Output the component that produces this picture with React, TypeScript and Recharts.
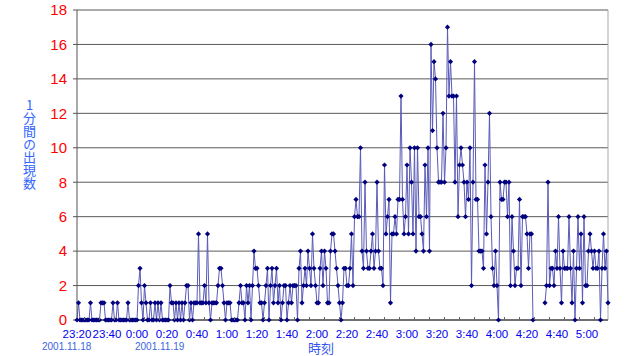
import React from "react";
import { LineChart, Line, XAxis, YAxis, CartesianGrid, ReferenceLine } from "recharts";

// Per-minute counts starting at 23:20 (2001.11.18)
const counts2320 = [
  0, 1, 0, 0, 0, 0, 0, 0, 0, 1, 0, 0, 0, 0, 0, 0, 1, 1, 1, 0,
  0, 0, 0, 0, 1, 0, 0, 1, 0, 0, 0, 0, 0, 0, 1, 0, 0, 0, 0, 0,
];
const counts0000 = [
  0, 2, 3, 1, 0, 2, 1, 0, 0, 1, 0, 0, 1, 0, 1, 0, 1, 0, 0, 0,
  0, 0, 2, 1, 1, 0, 1, 0, 1, 0, 1, 0, 1, 2, 2, 0, 1, 0, 1, 1,
  1, 5, 1, 1, 1, 2, 1, 5, 1, 0, 1, 1, 1, 1, 2, 3, 3, 2, 1, 0,
];
const counts0100 = [
  1, 1, 1, 0, 0, 0, 0, 0, 1, 2, 1, 1, 0, 2, 1, 2, 0, 2, 4, 3,
  3, 2, 1, 1, 0, 1, 2, 3, 0, 2, 3, 1, 2, 3, 1, 2, 0, 1, 2, 2,
  0, 1, 2, 1, 2, 2, 2, 0, 3, 4, 1, 2, 3, 2, 4, 3, 2, 5, 3, 2,
];
const counts0200 = [
  1, 1, 3, 4, 2, 4, 3, 1, 1, 4, 5, 5, 4, 3, 2, 1, 0, 1, 3, 3,
  2, 2, 3, 5, 2, 6, 7, 6, 6, 10, 4, 3, 8, 4, 3, 3, 4, 5, 3, 4,
  8, 4, 3, 3, 2, 9, 5, 6, 7, 1, 5, 5, 6, 5, 7, 7, 13, 7, 5, 6,
];
const counts0300 = [
  9, 5, 10, 8, 5, 10, 4, 10, 6, 6, 5, 4, 9, 6, 10, 4, 16, 11, 15, 14,
  10, 8, 8, 8, 12, 8, 10, 17, 13, 15, 13, 13, 8, 13, 6, 9, 10, 9, 8, 6,
  8, 7, 10, 2, 8, 15, 7, 7, 4, 4, 4, 3, 9, 5, 8, 12, 6, 3, 2, 4,
];
const counts0400: (number | null)[] = [
  2, 0, 8, 7, 7, 8, 8, 6, 8, 2, 6, 4, 2, 3, 3, 7, 2, 6, 6, 6,
  5, 3, 5, 5, 0, null, null, null, null, null, null, null, 1, 2, 8, 2, 3, 3, 2, 4,
  3, 6, 3, 1, 4, 3, 3, 3, 6, 3, 1, 4, 0, 3, 6, 3, 5, 1, 6, 2,
];
const counts0500 = [2, 4, 5, 4, 3, 4, 3, 3, 4, 0, 3, 5, 3, 4, 1];

const yTicks = [0, 2, 4, 6, 8, 10, 12, 14, 16, 18];
const dateLabels: Record<string, string> = { "23:20": "2001.11.18", "0:00": "2001.11.19" };

const START_MINUTE = 23 * 60 + 20;
const allCounts: (number | null)[] = [
  ...counts2320, ...counts0000, ...counts0100, ...counts0200, ...counts0300, ...counts0400, ...counts0500,
];

const fmt = (m: number) => {
  const t = m % 1440;
  const h = Math.floor(t / 60);
  const mm = t % 60;
  return `${h}:${mm < 10 ? "0" : ""}${mm}`;
};

const data = allCounts.map((c, i) => ({ time: fmt(START_MINUTE + i), count: c }));
const indexOf = new Map<string, number>(data.map((d, i) => [d.time, i]));
const xTicks = data.filter((_, i) => i % 20 === 0 || i % 10 === 5).map((d) => d.time);

const XTick = (props: any) => {
  const { x, y, payload } = props;
  const i = indexOf.get(payload.value) ?? 0;
  const isLabel = i % 20 === 0;
  const date = dateLabels[payload.value];
  return (
    <g>
      {!isLabel && <line x1={x} y1={y} x2={x} y2={y - 3} stroke="#666" />}
      {isLabel && (
        <text x={x} y={y + 17.5} textAnchor="middle" fill="#0000ee" fontSize={11.5}
          fontFamily="'Liberation Sans', Arial, sans-serif">{payload.value}</text>
      )}
      {date && (
        <text x={payload.value === "23:20" ? x - 35 : x - 2} y={y + 30} textAnchor="start" fill="#3c64dc" fontSize={10}
          fontFamily="'Liberation Sans', Arial, sans-serif">{date}</text>
      )}
    </g>
  );
};

const Diamond = (props: any) => {
  const { cx, cy, payload } = props;
  if (payload == null || payload.count == null || cx == null || cy == null) return <g />;
  const r = 2.6;
  return <path d={`M${cx},${cy - r}L${cx + r},${cy}L${cx},${cy + r}L${cx - r},${cy}Z`} fill="#000080" />;
};

export default function App() {
  return (
    <div style={{ position: "absolute", left: 0, top: 0, width: 640, height: 356, background: "#fff" }}>
      <LineChart width={640} height={356} data={data} margin={{ top: 10, right: 32, bottom: 0, left: 0 }}>
        <CartesianGrid vertical={false} stroke="#5a5a5a" />
        <ReferenceLine y={18} stroke="#a8a8a8" />
        <ReferenceLine x={data[data.length - 1].time} stroke="#a8a8a8" />
        <XAxis dataKey="time" ticks={xTicks} interval={0} tickSize={0} tickMargin={0} tickLine={false}
          height={36} axisLine={{ stroke: "#333" }} tick={(p: any) => <XTick {...p} />} />
        <YAxis domain={[0, 18]} ticks={yTicks} interval={0} width={77} tickSize={4} tickMargin={6}
          axisLine={{ stroke: "#555" }} tickLine={{ stroke: "#555" }}
          tick={{ fill: "#ff0000", fontSize: 15, fontFamily: "'Liberation Sans', Arial, sans-serif" }} />
        <Line type="linear" dataKey="count" stroke="#5a5ab8" strokeWidth={1} dot={(p: any) => <Diamond key={p.index} {...p} />}
          activeDot={false} isAnimationActive={false} connectNulls={false} />
      </LineChart>
      <div style={{ position: "absolute", left: 22, top: 99, writingMode: "vertical-rl", textOrientation: "upright",
        fontFamily: "'Noto Sans CJK JP', sans-serif", fontSize: 13, lineHeight: "14px", color: "#3366ff", letterSpacing: 0 }}>
        1分間の出現数
      </div>
      <div style={{ position: "absolute", left: 308, top: 341, fontFamily: "'Noto Sans CJK JP', sans-serif",
        fontSize: 13, lineHeight: "14px", color: "#3355ee" }}>
        時刻
      </div>
    </div>
  );
}
